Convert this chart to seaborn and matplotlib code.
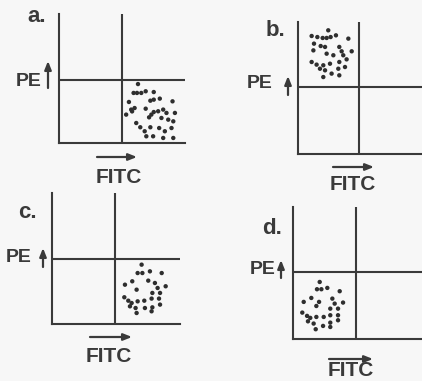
import numpy as np
import pandas as pd
import seaborn as sns
import matplotlib.pyplot as plt

# dot positions (FITC, PE) on a 0-100 scale
a_fitc = [62.7, 59.2, 61.9, 65.3, 68.8, 75.2, 72.5, 75.2, 80.0, 90.1, 55.5, 57.3, 60.0,
          53.3, 68.8, 73.3, 75.2, 78.7, 82.7, 85.3, 92.0, 81.3, 86.7, 71.5, 61.3, 64.5,
          68.0, 72.5, 79.5, 84.0, 89.3, 90.7, 69.3, 74.7, 82.7, 90.7, 58.0]
a_pe = [45.7, 38.8, 38.8, 38.8, 40.1, 39.5, 32.8, 33.6, 34.4, 32.3, 31.8, 25.9, 27.1,
        22.0, 26.6, 22.0, 24.0, 24.6, 25.9, 23.3, 23.3, 19.4, 18.1, 19.9, 15.5, 12.2,
        9.1, 12.2, 11.6, 9.1, 11.6, 16.8, 5.2, 5.2, 3.9, 3.9, 24.5]

b_fitc = [24.4, 11.0, 15.6, 19.9, 23.1, 26.3, 30.6, 40.6, 12.9, 18.3, 21.8, 12.4, 23.1,
          33.3, 35.2, 43.3, 28.5, 36.5, 11.0, 15.0, 20.4, 25.8, 33.3, 39.2, 17.7, 21.8,
          27.1, 32.5, 37.9, 20.4, 33.3]
b_pe = [93.7, 89.4, 88.6, 87.9, 87.9, 88.6, 89.9, 87.4, 83.6, 81.8, 81.1, 78.5, 76.0,
        81.1, 77.8, 77.8, 74.8, 74.8, 69.7, 67.7, 67.2, 68.4, 69.7, 71.7, 64.6, 63.4,
        60.9, 64.6, 65.9, 58.3, 59.6]

c_fitc = [70.0, 66.9, 70.6, 76.5, 85.7, 62.7, 75.2, 57.0, 66.1, 80.4, 82.5, 88.8, 78.4,
          84.4, 56.5, 59.6, 62.2, 66.9, 72.1, 77.8, 83.6, 60.9, 65.3, 72.6, 78.4, 84.4,
          66.1, 77.8]
c_pe = [45.3, 38.9, 38.9, 40.2, 38.9, 32.6, 33.1, 30.0, 26.2, 31.3, 27.5, 28.8, 23.7,
        23.7, 20.4, 17.8, 16.0, 17.3, 17.8, 19.4, 19.4, 13.5, 12.2, 12.2, 12.7, 14.8,
        8.4, 9.7]

d_fitc = [20.7, 18.6, 22.0, 26.6, 36.2, 14.2, 30.5, 8.3, 20.2, 18.1, 32.3, 38.8, 28.9,
          34.9, 7.2, 10.9, 13.4, 18.1, 23.8, 28.9, 34.9, 11.6, 16.0, 23.3, 28.9, 34.9,
          17.6, 28.9]
d_pe = [43.2, 37.7, 37.7, 38.7, 36.2, 31.1, 30.6, 28.1, 28.1, 25.0, 26.8, 27.6, 23.0,
        23.0, 20.0, 17.5, 16.0, 16.7, 16.7, 18.0, 18.0, 13.4, 11.7, 9.9, 12.4, 14.2,
        7.4, 9.1]

panel_labels = ["a.", "b.", "c.", "d."]
gate_fitc = [50, 49, 49, 49]
gate_pe = [49, 51, 50, 51]

W, H = 422, 381
ink = "#3a3a3a"

sns.set_style("white")
plt.rcParams["font.family"] = ["Liberation Sans", "DejaVu Sans"]

fig = plt.figure(figsize=(W / 100, H / 100), dpi=100, facecolor="#f7f7f7")


def fx(px):
    return px / W


def fy(py):
    return 1 - py / H


# axes boxes in pixels: left, top, right, bottom
boxes = [(59, 14, 185, 143), (298, 22, 422, 154), (52, 193, 180, 324), (293, 207, 422, 339)]
# text / arrow anchors in pixels
label_xy = [(37, 16), (275, 30), (27, 213), (272, 228)]
pe_xy = [(29, 82), (260, 84), (19, 257), (263, 270)]
pe_arrow = [(48, 88, 61), (288, 95, 76), (43, 267, 248), (281, 278, 260)]
fitc_arrow = [(97, 137, 157), (333, 374, 167), (90, 132, 337), (329, 373, 359)]
fitc_xy = [(119, 177), (353, 185), (109, 357), (351, 371)]

data = [(a_fitc, a_pe), (b_fitc, b_pe), (c_fitc, c_pe), (d_fitc, d_pe)]

for i, (xs, ys) in enumerate(data):
    l, t, r, b = boxes[i]
    ax = fig.add_axes([fx(l), fy(b), (r - l) / W, (b - t) / H])
    df = pd.DataFrame({"FITC": xs, "PE": ys})
    sns.scatterplot(data=df, x="FITC", y="PE", ax=ax, s=10, color="#2e2e2e",
                    edgecolor="none", linewidth=0)
    ax.set_xlim(0, 100)
    ax.set_ylim(0, 100)
    ax.axvline(gate_fitc[i], color=ink, lw=1.5)
    ax.axhline(gate_pe[i], color=ink, lw=1.5)
    ax.set_facecolor("none")
    ax.set_xticks([])
    ax.set_yticks([])
    ax.set_xlabel("")
    ax.set_ylabel("")
    for side in ["top", "right"]:
        ax.spines[side].set_visible(False)
    for side in ["left", "bottom"]:
        ax.spines[side].set_color(ink)
        ax.spines[side].set_linewidth(1.5)

    fig.text(fx(label_xy[i][0]), fy(label_xy[i][1]), panel_labels[i], fontsize=16,
             fontweight="bold", color=ink, ha="center", va="center")
    fig.text(fx(pe_xy[i][0]), fy(pe_xy[i][1]), "PE", fontsize=14, fontweight="bold",
             color=ink, ha="center", va="center")
    fig.text(fx(fitc_xy[i][0]), fy(fitc_xy[i][1]), "FITC", fontsize=15, fontweight="bold",
             color=ink, ha="center", va="center")

    x0, y0, y1 = pe_arrow[i]
    ax.annotate("", xy=(fx(x0), fy(y1)), xytext=(fx(x0), fy(y0)),
                xycoords="figure fraction", textcoords="figure fraction",
                annotation_clip=False,
                arrowprops=dict(arrowstyle="-|>,head_length=0.5,head_width=0.2",
                                color=ink, lw=1.6, shrinkA=0, shrinkB=0))
    x0, x1, y0 = fitc_arrow[i]
    ax.annotate("", xy=(fx(x1), fy(y0)), xytext=(fx(x0), fy(y0)),
                xycoords="figure fraction", textcoords="figure fraction",
                annotation_clip=False,
                arrowprops=dict(arrowstyle="-|>,head_length=0.5,head_width=0.2",
                                color=ink, lw=1.6, shrinkA=0, shrinkB=0))

fig.savefig("out.png", dpi=100, facecolor=fig.get_facecolor())
